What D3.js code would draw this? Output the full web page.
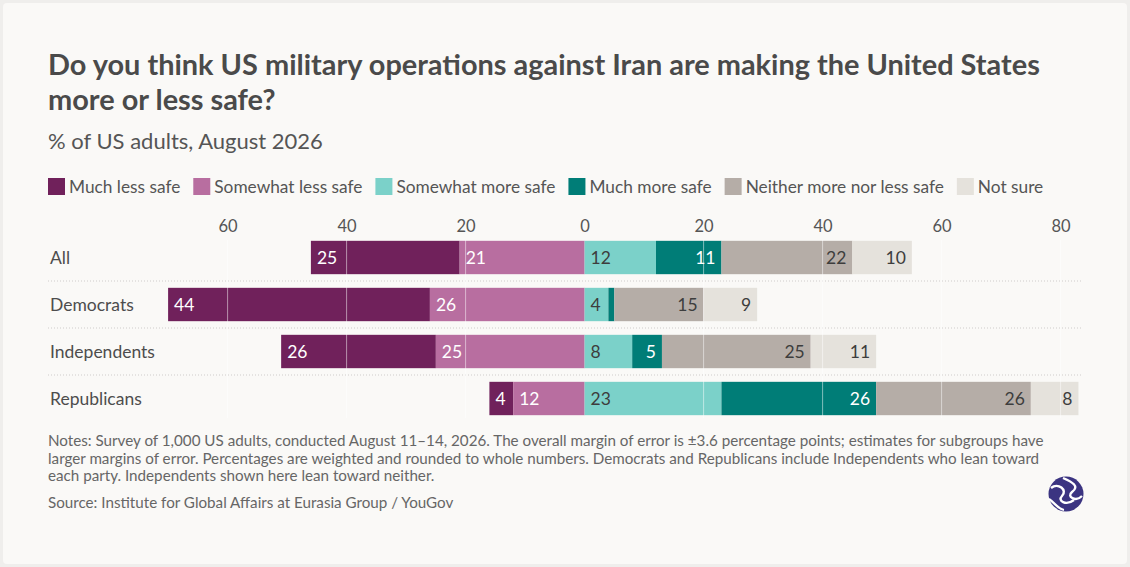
<!DOCTYPE html>
<html>
<head>
<meta charset="utf-8">
<script src="https://cdn.jsdelivr.net/npm/d3@7"></script>
<style>
  html, body { margin: 0; padding: 0; background: #efeeec; }
  svg { display: block; }
  text { font-family: Lato, "Noto Sans", sans-serif; }
</style>
</head>
<body>
<div id="chart"></div>
<script>
// chart data
var groups = ['All', 'Democrats', 'Independents', 'Republicans'];
var answers = ['Much less safe', 'Somewhat less safe', 'Somewhat more safe', 'Much more safe', 'Neither more nor less safe', 'Not sure'];
var muchLess = [25, 44, 26, 4];
var somewhatLess = [21, 26, 25, 12];
var somewhatMore = [12, 4, 8, 23];
var muchMore = [11, 1, 5, 26];
var neither = [22, 15, 25, 26];
var notSure = [10, 9, 11, 8];
var tickValues = [-60, -40, -20, 0, 20, 40, 60, 80];

var colors = ['#70215b', '#b86ea0', '#7bd1c9', '#007d77', '#b5ada7', '#e5e2dc'];
var labelColors = ['#fff', '#fff', '#3d3d3d', '#fff', '#3d3d3d', '#3d3d3d'];
var labelAlign = ['start', 'start', 'start', 'end', 'end', 'end'];

var svgWidth = 1130;
var svgHeight = 567;

var svg = d3.select('#chart').append('svg')
    .attr('width', svgWidth)
    .attr('height', svgHeight);

// card
svg.append('rect')
    .attr('x', 3).attr('y', 3)
    .attr('width', svgWidth - 6).attr('height', svgHeight - 6)
    .attr('rx', 4)
    .attr('fill', '#faf9f7');

// title, fitted to the width the reference uses
var titleLines = ['Do you think US military operations against Iran are making the United States', 'more or less safe?'];
var title = svg.append('g');
titleLines.forEach((t, i) => {
    title.append('text')
        .attr('x', 48)
        .attr('y', 75 + i * 35)
        .attr('fill', '#4a4a4a')
        .style('font-size', '26px')
        .style('font-weight', 700)
        .text(t);
});
var firstLine = title.select('text').node();
var fitSize = 26 * 992 / firstLine.getComputedTextLength();
title.selectAll('text').style('font-size', fitSize + 'px');

svg.append('text')
    .attr('x', 48)
    .attr('y', 149)
    .attr('fill', '#555')
    .style('font-size', '22px')
    .text('% of US adults, August 2026');

// legend
var legendX = 48;
answers.forEach((a, i) => {
    var g = svg.append('g').attr('transform', `translate(${legendX}, 178)`);
    g.append('rect')
        .attr('width', 17).attr('height', 17)
        .attr('fill', colors[i]);
    var t = g.append('text')
        .attr('x', 21)
        .attr('y', 14.5)
        .attr('fill', '#555')
        .style('font-size', '17.3px')
        .text(a);
    legendX += 21 + t.node().getComputedTextLength() + 13;
});

// scales
var xScale = d3.scaleLinear()
    .domain([-60, 80])
    .range([227.6, 1060.6]);

var yScale = d3.scaleBand()
    .domain(groups)
    .range([234, 422])
    .paddingInner(0.29)
    .paddingOuter(0.145);

var xAxis = d3.axisTop(xScale)
    .tickValues(tickValues)
    .tickSize(0)
    .tickPadding(0)
    .tickFormat(d => Math.abs(d));

var xAxisG = svg.append('g')
    .attr('transform', 'translate(0, 232)')
    .call(xAxis);
xAxisG.select('.domain').remove();
xAxisG.selectAll('text')
    .attr('fill', '#555')
    .style('font-size', '16.5px')
    .style('font-family', 'Lato, sans-serif');

// row labels
svg.append('g').selectAll('text')
    .data(groups)
    .enter()
    .append('text')
    .attr('x', 50)
    .attr('y', d => yScale(d) + yScale.bandwidth() / 2)
    .attr('dominant-baseline', 'central')
    .attr('fill', '#4d4d4d')
    .style('font-size', '17.5px')
    .text(d => d);

// dotted separators between rows
svg.append('g').selectAll('line')
    .data(groups.slice(1))
    .enter()
    .append('line')
    .attr('x1', 48).attr('x2', 1082)
    .attr('y1', d => yScale(d) - yScale.step() * yScale.paddingInner() / 2)
    .attr('y2', d => yScale(d) - yScale.step() * yScale.paddingInner() / 2)
    .attr('stroke', '#cfcccb')
    .attr('stroke-width', 1)
    .attr('stroke-dasharray', '1,2');

// build segments: negatives stack leftwards from 0, positives rightwards
var series = [muchLess, somewhatLess, somewhatMore, muchMore, neither, notSure];
var segments = [];
groups.forEach((g, gi) => {
    var left = -(muchLess[gi] + somewhatLess[gi]);
    var pos = left;
    series.forEach((s, si) => {
        segments.push({ group: g, k: si, value: s[gi], x0: pos, x1: pos + s[gi] });
        pos += s[gi];
    });
});

var barsG = svg.append('g');
barsG.selectAll('rect')
    .data(segments)
    .enter()
    .append('rect')
    .attr('x', d => xScale(d.x0))
    .attr('y', d => yScale(d.group))
    .attr('width', d => xScale(d.x1) - xScale(d.x0))
    .attr('height', yScale.bandwidth())
    .attr('fill', d => colors[d.k]);

// gridlines sit over the bars, faint white
svg.append('g').selectAll('line')
    .data(tickValues.filter(d => d != 0))
    .enter()
    .append('line')
    .attr('x1', d => xScale(d)).attr('x2', d => xScale(d))
    .attr('y1', 240).attr('y2', 418)
    .attr('stroke', '#fff')
    .attr('stroke-opacity', 0.5)
    .attr('stroke-width', 1);

// value labels (skip the tiny ones)
svg.append('g').selectAll('text')
    .data(segments.filter(d => d.value >= 3))
    .enter()
    .append('text')
    .attr('x', d => labelAlign[d.k] == 'start' ? xScale(d.x0) + 6 : xScale(d.x1) - 6)
    .attr('y', d => yScale(d.group) + yScale.bandwidth() / 2)
    .attr('text-anchor', d => labelAlign[d.k])
    .attr('dominant-baseline', 'central')
    .attr('fill', d => labelColors[d.k])
    .style('font-size', '17.5px')
    .text(d => d.value);

// notes and source
var notes = [
    'Notes: Survey of 1,000 US adults, conducted August 11\u201314, 2026. The overall margin of error is \u00b13.6 percentage points; estimates for subgroups have',
    'larger margins of error. Percentages are weighted and rounded to whole numbers. Democrats and Republicans include Independents who lean toward',
    'each party. Independents shown here lean toward neither.'
];
notes.forEach((n, i) => {
    svg.append('text')
        .attr('x', 48)
        .attr('y', 446 + i * 17.5)
        .attr('fill', '#666')
        .style('font-size', '15.2px')
        .text(n);
});
svg.append('text')
    .attr('x', 48)
    .attr('y', 508)
    .attr('fill', '#666')
    .style('font-size', '15.2px')
    .text('Source: Institute for Global Affairs at Eurasia Group / YouGov');

// logo mark
var logo = svg.append('g').attr('transform', 'translate(1066, 494)');
logo.append('circle').attr('r', 17.5).attr('fill', '#3b3481');
logo.append('path')
    .attr('d', 'M-15,-6 C-8,-12 2,-4 -4,2 C-9,7 0,12 8,6')
    .attr('fill', 'none').attr('stroke', '#fff').attr('stroke-width', 2.4);
logo.append('path')
    .attr('d', 'M-3,-16 C6,-12 14,-8 6,-2 C0,3 10,8 16,2')
    .attr('fill', 'none').attr('stroke', '#fff').attr('stroke-width', 2.4);
logo.append('path')
    .attr('d', 'M-17,5 C-11,9 -8,15 -2,16')
    .attr('fill', 'none').attr('stroke', '#fff').attr('stroke-width', 2.2);
</script>
</body>
</html>
